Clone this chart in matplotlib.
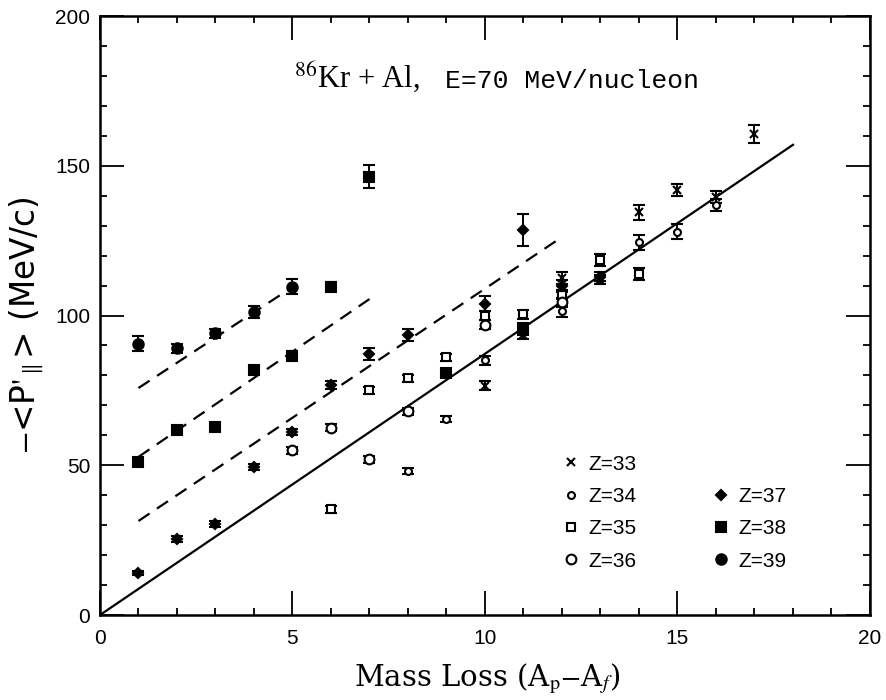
import numpy as np
import matplotlib
matplotlib.use("agg")
import matplotlib.pyplot as plt
from matplotlib.lines import Line2D
from matplotlib.ticker import MultipleLocator

# mass loss (A_p - A_f) and -<P'||> (MeV/c) per fragment charge
Z33_X = [10, 11, 12, 13, 14, 15, 16, 17]
Z33_Y = [76.5, 93.5, 112.5, 112.0, 134.5, 142.0, 139.5, 160.5]
Z33_E = [1.5, 1.5, 2.0, 1.5, 2.5, 2.0, 2.0, 3.0]

Z34_X = [8, 9, 10, 12, 14, 15, 16]
Z34_Y = [48.0, 65.5, 85.0, 101.5, 124.5, 128.0, 137.0]
Z34_E = [1.0, 1.0, 1.5, 2.0, 2.5, 2.5, 2.0]

Z35_X = [6, 7, 8, 9, 10, 11, 12, 13, 14]
Z35_Y = [35.3, 75.0, 79.0, 86.0, 100.0, 100.5, 107.0, 118.5, 114.0]
Z35_E = [1.2, 1.2, 1.2, 1.2, 1.5, 1.5, 1.5, 2.0, 2.0]

Z36_X = [5, 6, 7, 8, 10, 12]
Z36_Y = [55.0, 62.5, 52.0, 68.0, 97.0, 104.5]
Z36_E = [1.2, 1.2, 1.2, 1.2, 1.5, 1.5]

Z37_X = [1, 2, 3, 4, 5, 6, 7, 8, 10, 11, 12, 13]
Z37_Y = [14.0, 25.5, 30.5, 49.5, 61.0, 76.8, 87.0, 93.5, 104.0, 128.5, 110.0, 113.0]
Z37_E = [0.8, 1.0, 1.0, 1.0, 1.0, 1.2, 2.0, 2.0, 2.5, 5.3, 2.0, 1.5]

Z38_X = [1, 2, 3, 4, 5, 6, 7, 9, 11]
Z38_Y = [51.0, 61.8, 62.8, 81.8, 86.5, 109.6, 146.3, 80.8, 95.5]
Z38_E = [1.2, 1.2, 1.2, 1.2, 1.5, 1.5, 3.8, 1.2, 2.0]

Z39_X = [1, 2, 3, 4, 5]
Z39_Y = [90.5, 89.0, 94.0, 101.3, 109.6]
Z39_E = [2.5, 1.5, 1.5, 2.0, 2.5]

# solid reference line and dashed guides (start/end points)
FIT_X = [0, 18]
FIT_Y = [0, 157]
DASH_X = [[1, 5], [1, 7], [1, 12]]
DASH_Y = [[75.8, 109.5], [52.8, 105.5], [31.4, 126.2]]

SERIES = [
	("Z=33", Z33_X, Z33_Y, Z33_E, "x", "none", 6),
	("Z=34", Z34_X, Z34_Y, Z34_E, "o", "white", 5),
	("Z=35", Z35_X, Z35_Y, Z35_E, "s", "white", 6),
	("Z=36", Z36_X, Z36_Y, Z36_E, "o", "white", 7),
	("Z=37", Z37_X, Z37_Y, Z37_E, "D", "black", 5.5),
	("Z=38", Z38_X, Z38_Y, Z38_E, "s", "black", 7),
	("Z=39", Z39_X, Z39_Y, Z39_E, "o", "black", 7.5),
]

plt.rcParams["mathtext.fontset"] = "stix"

fig = plt.figure(figsize=(8.87, 7), dpi=100)
ax = fig.add_axes([0.1127, 0.1214, 0.8681, 0.8557])

ax.plot(FIT_X, FIT_Y, color="black", lw=1.6)
for dx, dy in zip(DASH_X, DASH_Y):
	ax.plot(dx, dy, color="black", lw=1.6, dashes=(6, 4))

handles = {}
for label, x, y, e, m, fc, ms in SERIES:
	ax.errorbar(x, y, yerr=e, fmt=m, color="black", mfc=fc, mec="black",
		ms=ms, mew=1.5, capsize=4, elinewidth=1.4, capthick=1.4)
	handles[label] = Line2D([], [], marker=m, color="black", mfc=fc,
		mec="black", ms=ms, mew=1.5, linestyle="none")

blank = Line2D([], [], linestyle="none")
order = ["Z=33", "Z=34", "Z=35", "Z=36", None, "Z=37", "Z=38", "Z=39"]
leg = ax.legend([handles[k] if k else blank for k in order],
	[k if k else "" for k in order], ncol=2, frameon=False,
	loc="upper left", bbox_to_anchor=(0.585, 0.285), borderpad=0,
	handlelength=1.0, handletextpad=0.3, columnspacing=3.6,
	labelspacing=0.64, prop={"family": "Liberation Sans", "size": 15})

ax.text(5.05, 176, "$^{86}$Kr + Al,", family="Liberation Serif", fontsize=22,
	ha="left", va="baseline")
ax.text(8.96, 176, "E=70 MeV/nucleon", family="Liberation Mono", fontsize=19,
	ha="left", va="baseline")

ax.set_xlim(0, 20)
ax.set_ylim(0, 200)
ax.xaxis.set_major_locator(MultipleLocator(5))
ax.xaxis.set_minor_locator(MultipleLocator(1))
ax.yaxis.set_major_locator(MultipleLocator(50))
ax.yaxis.set_minor_locator(MultipleLocator(10))
ax.tick_params(which="both", direction="in", top=True, right=True, width=1.3)
ax.tick_params(which="major", length=17)
ax.tick_params(which="minor", length=5)
ax.tick_params(axis="x", pad=10)
ax.tick_params(axis="y", pad=7)
for lab in ax.get_xticklabels() + ax.get_yticklabels():
	lab.set_family("Liberation Sans")
	lab.set_fontsize(15)
for sp in ax.spines.values():
	sp.set_linewidth(1.8)

ax.set_xlabel("Mass Loss (A$_{\\mathrm{p}}$$-$A$_{f}$)", family="DejaVu Serif",
	fontsize=21)
ax.set_ylabel("$-$<P$'_{\\parallel}$> (MeV/c)", family="DejaVu Sans",
	fontsize=23.5)
ax.yaxis.set_label_coords(-0.07, 0.484)
ax.xaxis.set_label_coords(0.503, -0.077)

plt.savefig("out.png", dpi=100)
